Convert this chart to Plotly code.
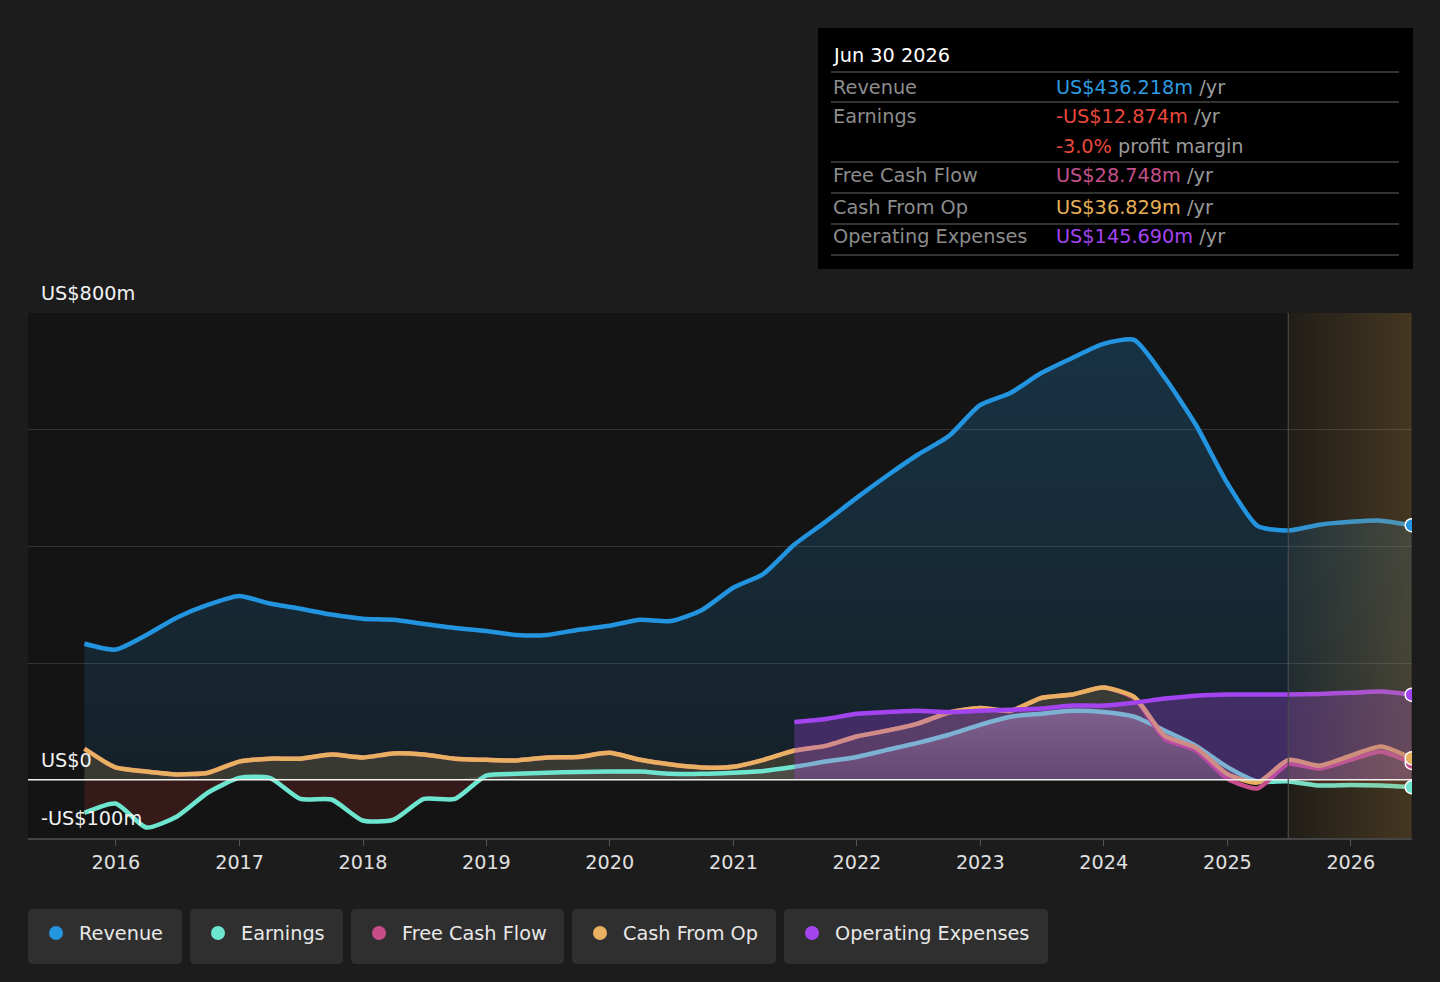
import plotly.graph_objects as go
import pandas as pd

# quarterly points, Sep 2015 .. Jun 2026 (values in US$ m)
quarters = pd.date_range("2015-09-30", "2026-06-30", freq="QE")

revenue = [233, 223, 248, 278, 300, 315, 302, 293, 283, 276, 274, 267, 260, 255, 248, 248,
           257, 264, 274, 272, 291, 329, 353, 403, 442, 483, 521, 557, 589, 642, 663, 697,
           723, 747, 754, 689, 608, 509, 435, 427, 437, 442, 444, 436.218]
earnings = [-57, -41, -82, -63, -22, 3, 3, -33, -34, -70, -69, -33, -33, 7, 10, 12,
            13, 14, 14, 10, 10, 12, 15, 22, 31, 39, 51, 63, 77, 94, 108, 113,
            118, 116, 108, 84, 58, 22, -3, -3, -10, -9, -10, -12.874]
cash_from_op = [53, 21, 14, 9, 12, 31, 36, 36, 43, 38, 45, 43, 36, 34, 33, 38,
                39, 46, 34, 26, 21, 22, 34, 50, 58, 74, 84, 96, 115, 123, 118, 140,
                146, 158, 142, 75, 55, 10, -5, 34, 24, 41, 57, 36.829]
free_cash_flow = [53, 21, 14, 9, 12, 31, 36, 36, 43, 38, 45, 43, 36, 34, 33, 38,
                  39, 46, 34, 26, 21, 22, 34, 50, 58, 74, 84, 96, 115, 123, 118, 140,
                  146, 158, 140, 70, 50, 2, -15, 27, 19, 34, 48, 28.748]
# operating expenses only reported from mid 2021
opex_quarters = quarters[23:]
opex = [99, 104, 113, 116, 118, 116, 118, 120, 122, 127, 127, 132, 139, 144, 146, 146,
        146, 147, 149, 151, 145.690]

forecast_start = "2025-06-30"
forecast_end = "2026-06-30"
year_ticks = [f"{y}-01-01" for y in range(2016, 2027)]
year_labels = [str(y) for y in range(2016, 2027)]

C_REV = "#2394df"
C_EARN = "#6ee6cf"
C_FCF = "#c74d8a"
C_CFO = "#e8b060"
C_OPEX = "#a444f0"

FONT = "DejaVu Sans"
FS = 19.3
SP = dict(shape="spline", smoothing=0.6)

fig = go.Figure()

# revenue area
fig.add_trace(go.Scatter(x=quarters, y=revenue, mode="lines", line=dict(width=0, **SP),
                         fill="tozeroy",
                         fillgradient=dict(type="vertical",
                                           colorscale=[[0, "rgba(35,148,223,0.10)"],
                                                       [1, "rgba(35,148,223,0.24)"]])))
# cash from op area
fig.add_trace(go.Scatter(x=quarters, y=cash_from_op, mode="lines", line=dict(width=0, **SP),
                         fill="tozeroy", fillcolor="rgba(232,176,96,0.17)"))
# earnings areas (negative red, positive light)
fig.add_trace(go.Scatter(x=quarters, y=[min(v, 0) for v in earnings], mode="lines",
                         line=dict(width=0, **SP), fill="tozeroy",
                         fillcolor="rgba(225,60,60,0.17)"))
fig.add_trace(go.Scatter(x=quarters, y=[max(v, 0) for v in earnings], mode="lines",
                         line=dict(width=0, **SP), fill="tozeroy",
                         fillgradient=dict(type="vertical",
                                           colorscale=[[0, "rgba(230,215,215,0.10)"],
                                                       [1, "rgba(230,215,215,0.32)"]])))

# lines
fig.add_trace(go.Scatter(x=quarters, y=revenue, mode="lines", line=dict(color=C_REV, width=4.5, **SP)))
fig.add_trace(go.Scatter(x=quarters, y=earnings, mode="lines", line=dict(color=C_EARN, width=4.5, **SP)))
fig.add_trace(go.Scatter(x=quarters, y=free_cash_flow, mode="lines", line=dict(color=C_FCF, width=4.5, **SP)))
fig.add_trace(go.Scatter(x=quarters, y=cash_from_op, mode="lines", line=dict(color=C_CFO, width=4.5, **SP)))

# opex area + line
fig.add_trace(go.Scatter(x=opex_quarters, y=opex, mode="lines", line=dict(width=0, **SP),
                         fill="tozeroy", fillcolor="rgba(160,68,220,0.32)"))
fig.add_trace(go.Scatter(x=opex_quarters, y=opex, mode="lines", line=dict(color=C_OPEX, width=4.5, **SP)))

# forecast shading
fig.add_trace(go.Scatter(x=[forecast_start, forecast_end, forecast_end, forecast_start, forecast_start],
                         y=[-100, -100, 800, 800, -100], mode="lines", line=dict(width=0),
                         fill="toself",
                         fillgradient=dict(type="horizontal",
                                           colorscale=[[0, "rgba(200,150,70,0.07)"],
                                                       [1, "rgba(200,150,70,0.27)"]])))

# end markers
for ys, col in [(revenue, C_REV), (earnings, C_EARN), (free_cash_flow, C_FCF),
                (cash_from_op, C_CFO), (opex, C_OPEX)]:
    fig.add_trace(go.Scatter(x=[quarters[-1]], y=[ys[-1]], mode="markers",
                             marker=dict(color=col, size=13, line=dict(color="white", width=1.5))))

fig.add_hline(y=0, line=dict(color="#f2f2f2", width=1.5))
fig.add_vline(x=forecast_start, line=dict(color="#4a4a4a", width=1.2))

fig.update_layout(
    width=1440, height=982,
    margin=dict(l=28, r=28, t=313, b=144),
    paper_bgcolor="#1c1c1c", plot_bgcolor="#141414",
    showlegend=False, hovermode=False,
    font=dict(family=FONT, size=FS, color="#e6e6e6"),
    xaxis=dict(type="date", range=["2015-04-16", "2026-07-01"],
               tickvals=year_ticks, ticktext=year_labels,
               ticks="outside", ticklen=6, tickcolor="#555", tickfont=dict(size=19.2, color="#e0e0e0"),
               showgrid=False, showline=True, linecolor="#444", linewidth=1.5, zeroline=False),
    yaxis=dict(range=[-100, 800], tickvals=[0, 200, 400, 600, 800], showticklabels=False,
               gridcolor="#333333", gridwidth=1.2, zeroline=False, showline=False),
)

# y labels
for val, txt in [(800, "US$800m"), (0, "US$0"), (-100, "-US$100m")]:
    fig.add_annotation(x=0, xref="paper", y=val, yref="y", text=txt, showarrow=False,
                       xanchor="left", yanchor="bottom", xshift=11, yshift=6,
                       font=dict(size=FS, color="#f2f2f2"))


# reference pixel -> paper coordinates
def px_x(p):
    return (p - 28) / 1384


def px_y(p):
    return (838 - p) / 525


# tooltip panel
fig.add_shape(type="rect", xref="paper", yref="paper", x0=px_x(818), x1=px_x(1413),
              y0=px_y(269), y1=px_y(28), fillcolor="#000000", line=dict(width=0))
for yy in [72, 102, 162, 193, 224, 255]:
    fig.add_shape(type="line", xref="paper", yref="paper", x0=px_x(831), x1=px_x(1399),
                  y0=px_y(yy), y1=px_y(yy), line=dict(color="#444444", width=1.5))

fig.add_annotation(x=px_x(831), y=px_y(55), xref="paper", yref="paper", text="Jun 30 2026",
                   showarrow=False, xanchor="left", yanchor="middle",
                   font=dict(size=FS, color="#ffffff"))
rows = [
    (87, "Revenue", '<span style="color:#2d9be0">US$436.218m</span> /yr'),
    (116, "Earnings", '<span style="color:#e8483c">-US$12.874m</span> /yr'),
    (146, "", '<span style="color:#e8483c">-3.0%</span> profit margin'),
    (176, "Free Cash Flow", '<span style="color:#c4508a">US$28.748m</span> /yr'),
    (207, "Cash From Op", '<span style="color:#e8b056">US$36.829m</span> /yr'),
    (237, "Operating Expenses", '<span style="color:#a444f0">US$145.690m</span> /yr'),
]
for yy, lab, val in rows:
    if lab:
        fig.add_annotation(x=px_x(831), y=px_y(yy), xref="paper", yref="paper", text=lab,
                           showarrow=False, xanchor="left", yanchor="middle",
                           font=dict(size=FS, color="#8c8c8c"))
    fig.add_annotation(x=px_x(1054), y=px_y(yy), xref="paper", yref="paper", text=val,
                       showarrow=False, xanchor="left", yanchor="middle",
                       font=dict(size=FS, color="#9a9a9a"))

# legend chips
legend = [("Revenue", C_REV, 28, 182), ("Earnings", C_EARN, 190, 343),
          ("Free Cash Flow", C_FCF, 351, 564), ("Cash From Op", C_CFO, 572, 776),
          ("Operating Expenses", C_OPEX, 784, 1048)]
for name, col, left, right in legend:
    r = 5
    x0, x1 = px_x(left), px_x(right)
    y0, y1 = px_y(964), px_y(909)
    rx, ry = r / 1384, r / 525
    path = (f"M {x0+rx},{y0} L {x1-rx},{y0} Q {x1},{y0} {x1},{y0+ry} L {x1},{y1-ry} "
            f"Q {x1},{y1} {x1-rx},{y1} L {x0+rx},{y1} Q {x0},{y1} {x0},{y1-ry} "
            f"L {x0},{y0+ry} Q {x0},{y0} {x0+rx},{y0} Z")
    fig.add_shape(type="path", xref="paper", yref="paper", path=path,
                  fillcolor="#2f2f2f", line=dict(width=0))
    fig.add_shape(type="circle", xref="paper", yref="paper",
                  x0=px_x(left + 21), x1=px_x(left + 35), y0=px_y(940), y1=px_y(926),
                  fillcolor=col, line=dict(width=0))
    fig.add_annotation(x=px_x(left + 49), y=px_y(933), xref="paper", yref="paper", text=name,
                       showarrow=False, xanchor="left", yanchor="middle",
                       font=dict(size=FS, color="#e8e8e8"))

# drop the default page margin so the figure sits at the window corner
fig.write_html("out.html", config={"displayModeBar": False},
               post_script="document.body.style.margin='0';document.body.style.background='#1c1c1c';")
